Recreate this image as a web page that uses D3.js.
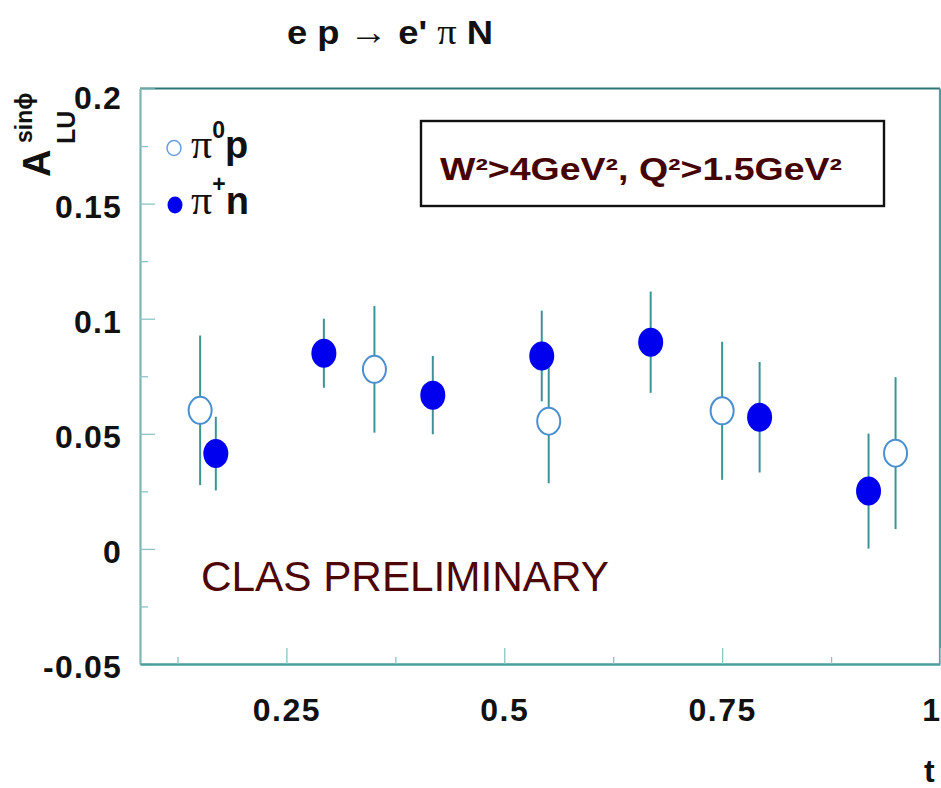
<!DOCTYPE html>
<html>
<head>
<meta charset="utf-8">
<script src="https://cdn.jsdelivr.net/npm/d3@7"></script>
<style>
  html, body { margin: 0; padding: 0; background: #fff; }
  svg { display: block; }
</style>
</head>
<body>
<svg id="chart" width="941" height="788"></svg>
<script>
// ---- data ----
const pi0pT   = [0.151, 0.351, 0.551, 0.750, 0.949];
const pi0pA   = [0.0602, 0.078, 0.0555, 0.060, 0.0416];
const pi0pErr = [0.0325, 0.0275, 0.027, 0.030, 0.033];

const pipnT   = [0.169, 0.293, 0.418, 0.543, 0.668, 0.793, 0.918];
const pipnA   = [0.0414, 0.085, 0.0668, 0.0838, 0.0898, 0.0572, 0.0251];
const pipnErr = [0.016, 0.015, 0.017, 0.0197, 0.022, 0.024, 0.025];

const xMajorTicks = [0.25, 0.5, 0.75, 1];
const xTickLabels = ["0.25", "0.5", "0.75", "1"];
const xMinorTicks = [0.125, 0.375, 0.625, 0.875];
const yMajorTicks = [-0.05, 0, 0.05, 0.1, 0.15, 0.2];
const yTickLabels = ["-0.05", "0", "0.05", "0.1", "0.15", "0.2"];
const yMinorTicks = [-0.025, 0.025, 0.075, 0.125, 0.175];

// ---- layout ----
const svg = d3.select("#chart");
const L = 140, R = 940, T = 88.5, B = 664;
const x = d3.scaleLinear().domain([0.082, 1.0]).range([L, R]);
const y = d3.scaleLinear().domain([-0.05, 0.2]).range([B, T]);

svg.append("rect").attr("width", 941).attr("height", 788).attr("fill", "#fff");

const axisColor = "#4a9e9e";
const sans = "'Liberation Sans', Arial, Helvetica, sans-serif";
const serif = "'Liberation Serif', 'Times New Roman', serif";

// frame
svg.append("line").attr("x1", L).attr("x2", R).attr("y1", T).attr("y2", T)
  .attr("stroke", "#2f7474").attr("stroke-width", 2.2);
svg.append("line").attr("x1", R).attr("x2", R).attr("y1", T).attr("y2", B)
  .attr("stroke", axisColor).attr("stroke-width", 2.2);

// y axis (ticks inward)
const yAxis = d3.axisLeft(y).tickValues(yMajorTicks)
  .tickFormat((d, i) => yTickLabels[i]).tickSizeInner(-15).tickSizeOuter(0).tickPadding(18);
const gy = svg.append("g").attr("transform", `translate(${L},0)`).call(yAxis);
gy.select(".domain").attr("stroke", "#7fb5b5").attr("stroke-width", 2.2);
gy.selectAll(".tick line").attr("stroke", "#8cc4c4").attr("stroke-width", 1.3);
gy.selectAll(".tick text")
  .attr("font-family", sans).attr("font-weight", "bold").attr("font-size", 32)
  .attr("letter-spacing", 1.2).attr("fill", "#111").attr("dy", "0.42em");
gy.selectAll(".tick").filter(d => d === 0.2).select("text").attr("dy", "0.62em");

const yMinor = d3.axisLeft(y).tickValues(yMinorTicks).tickFormat("")
  .tickSizeInner(-8).tickSizeOuter(0);
const gym = svg.append("g").attr("transform", `translate(${L},0)`).call(yMinor);
gym.select(".domain").remove();
gym.selectAll(".tick line").attr("stroke", "#8cc4c4").attr("stroke-width", 1.3);

// x axis (ticks inward)
const xAxis = d3.axisBottom(x).tickValues(xMajorTicks)
  .tickFormat((d, i) => xTickLabels[i]).tickSizeInner(-16).tickSizeOuter(0).tickPadding(57);
const gx = svg.append("g").attr("transform", `translate(0,${B})`).call(xAxis);
gx.select(".domain").attr("stroke", axisColor).attr("stroke-width", 2.4);
gx.selectAll(".tick line").attr("stroke", "#8cc4c4").attr("stroke-width", 1.3);
gx.selectAll(".tick text")
  .attr("font-family", sans).attr("font-weight", "bold").attr("font-size", 32)
  .attr("letter-spacing", 1.5).attr("fill", "#111").attr("dy", "0");
gx.selectAll(".tick").filter(d => d === 1).select("text")
  .attr("text-anchor", "end").attr("x", 1);

const xMinor = d3.axisBottom(x).tickValues(xMinorTicks).tickFormat("")
  .tickSizeInner(-7).tickSizeOuter(0);
const gxm = svg.append("g").attr("transform", `translate(0,${B})`).call(xMinor);
gxm.select(".domain").remove();
gxm.selectAll(".tick line").attr("stroke", "#8cc4c4").attr("stroke-width", 1.3);

// x axis title
svg.append("text").attr("x", 924).attr("y", 782)
  .attr("font-family", sans).attr("font-weight", "bold").attr("font-size", 32)
  .attr("fill", "#111").text("t");

// y axis title
const yt = svg.append("g").attr("transform", "translate(50,177) rotate(-90)")
  .attr("font-family", sans).attr("font-weight", "bold").attr("fill", "#111");
yt.append("text").attr("x", 0).attr("y", 0).attr("font-size", 38).text("A");
yt.append("text").attr("x", 33).attr("y", 25).attr("font-size", 25).text("LU");
yt.append("text").attr("x", 34).attr("y", -18).attr("font-size", 23).text("sinϕ");

// title
const title = svg.append("text").attr("x", 287).attr("y", 44)
  .attr("font-family", sans).attr("font-weight", "bold").attr("font-size", 34).attr("fill", "#111")
  .attr("textLength", 206).attr("lengthAdjust", "spacingAndGlyphs");
title.append("tspan").text("e p ");
title.append("tspan").attr("font-weight", "normal").attr("font-family", serif).attr("font-size", 36).text("→");
title.append("tspan").text(" e' ");
title.append("tspan").attr("font-weight", "normal").attr("font-family", serif).attr("font-size", 36).text("π");
title.append("tspan").text(" N");

// error bars + markers
const barColor = "#3d9494";
const pipn = pipnT.map((t, i) => ({ t, a: pipnA[i], e: pipnErr[i] }));
const pi0p = pi0pT.map((t, i) => ({ t, a: pi0pA[i], e: pi0pErr[i] }));

function drawSeries(data, filled) {
  const g = svg.append("g");
  g.selectAll("line").data(data).join("line")
    .attr("x1", d => x(d.t)).attr("x2", d => x(d.t))
    .attr("y1", d => y(d.a + d.e)).attr("y2", d => y(d.a - d.e))
    .attr("stroke", barColor).attr("stroke-width", 2);
  g.selectAll("ellipse").data(data).join("ellipse")
    .attr("cx", d => x(d.t)).attr("cy", d => y(d.a))
    .attr("rx", filled ? 12.5 : 11.5).attr("ry", filled ? 14.5 : 13.5)
    .attr("fill", filled ? "#0000ee" : "#fff")
    .attr("stroke", filled ? "none" : "#4a8fd0").attr("stroke-width", 2);
}
drawSeries(pi0p, false);
drawSeries(pipn, true);

// legend
svg.append("ellipse").attr("cx", 174).attr("cy", 148).attr("rx", 7).attr("ry", 7.5)
  .attr("fill", "#fff").attr("stroke", "#6a9fd8").attr("stroke-width", 1.5);
svg.append("ellipse").attr("cx", 175).attr("cy", 205).attr("rx", 7.5).attr("ry", 8.5)
  .attr("fill", "#0000ee");
const l1 = svg.append("text").attr("x", 191).attr("y", 158).attr("fill", "#111");
l1.append("tspan").attr("font-family", serif).attr("font-size", 42).text("π");
l1.append("tspan").attr("font-family", sans).attr("font-weight", "bold").attr("font-size", 23)
  .attr("dy", -20).text("0");
l1.append("tspan").attr("font-family", sans).attr("font-weight", "bold").attr("font-size", 38)
  .attr("dy", 20).text("p");
const l2 = svg.append("text").attr("x", 191).attr("y", 214).attr("fill", "#111");
l2.append("tspan").attr("font-family", serif).attr("font-size", 42).text("π");
l2.append("tspan").attr("font-family", sans).attr("font-weight", "bold").attr("font-size", 23)
  .attr("dy", -22).text("+");
l2.append("tspan").attr("font-family", sans).attr("font-weight", "bold").attr("font-size", 38)
  .attr("dy", 22).text("n");

// cut box
svg.append("rect").attr("x", 421).attr("y", 121).attr("width", 463).attr("height", 85)
  .attr("fill", "#fff").attr("stroke", "#111").attr("stroke-width", 2.4);
svg.append("text").attr("x", 440).attr("y", 180)
  .attr("font-family", sans).attr("font-weight", "bold").attr("font-size", 31)
  .attr("fill", "#450303").attr("textLength", 402).attr("lengthAdjust", "spacingAndGlyphs")
  .text("W²>4GeV², Q²>1.5GeV²");

// preliminary label
svg.append("text").attr("x", 201).attr("y", 591)
  .attr("font-family", sans).attr("font-size", 42)
  .attr("fill", "#4d0505").attr("textLength", 408).attr("lengthAdjust", "spacingAndGlyphs")
  .text("CLAS PRELIMINARY");
</script>
</body>
</html>
